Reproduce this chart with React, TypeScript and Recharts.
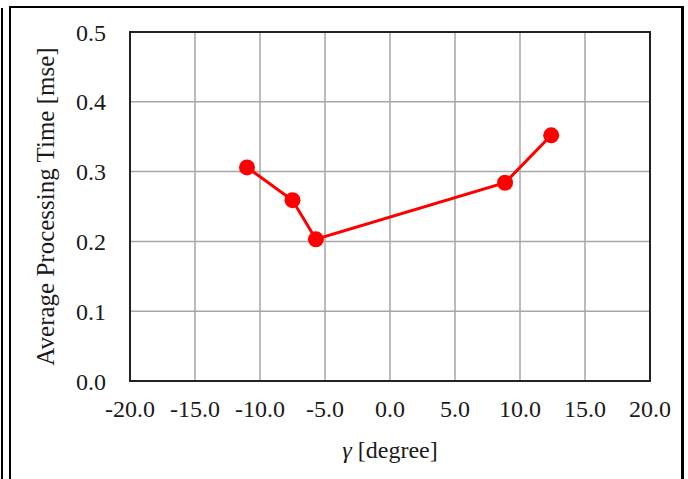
import React from 'react';
import {
  LineChart,
  Line,
  XAxis,
  YAxis,
  CartesianGrid,
  ReferenceArea,
} from 'recharts';

// Data
const gammaDeg = [-11.0, -7.5, -5.7, 8.85, 12.4];
const avgTime = [0.306, 0.259, 0.203, 0.284, 0.352];

const xTicks = [-20, -15, -10, -5, 0, 5, 10, 15, 20];
const yTicks = [0, 0.1, 0.2, 0.3, 0.4, 0.5];

const FONT = '"Liberation Serif", "Times New Roman", serif';
const FONT_SIZE = 24;
const TEXT_COLOR = '#1a1a1a';
const GRID_COLOR = '#a6a6a6';
const LINE_COLOR = '#ff0000';

const chartData = gammaDeg.map((g, i) => ({ gamma: g, time: avgTime[i] }));

function XLabel({ viewBox }: any) {
  const cx = viewBox.x + viewBox.width / 2;
  return (
    <text x={cx} y={458} textAnchor="middle" fontFamily={FONT} fontSize={FONT_SIZE} fill={TEXT_COLOR}>
      <tspan fontStyle="italic">γ</tspan>
      <tspan> [degree]</tspan>
    </text>
  );
}

function YLabel({ viewBox }: any) {
  const cy = viewBox.y + viewBox.height / 2;
  const cx = 45;
  return (
    <text
      x={cx}
      y={cy}
      transform={`rotate(-90, ${cx}, ${cy})`}
      textAnchor="middle"
      dominantBaseline="central"
      fontFamily={FONT}
      fontSize={25}
      fill={TEXT_COLOR}
    >
      Average Processing  Time [mse]
    </text>
  );
}

export default function App() {
  return (
    <div
      style={{
        position: 'absolute',
        left: 0,
        top: 0,
        width: 688,
        height: 479,
        background: '#fff',
        overflow: 'hidden',
      }}
    >
      {/* outer frame from the source document */}
      <div style={{ position: 'absolute', left: 1, top: 8, width: 2, height: 479, background: '#000' }} />
      <div style={{ position: 'absolute', left: 9, top: 6, width: 2, height: 479, background: '#000' }} />
      <div style={{ position: 'absolute', left: 9, top: 6, width: 675, height: 2, background: '#000' }} />
      <div style={{ position: 'absolute', left: 681, top: 6, width: 3, height: 479, background: '#000' }} />

      <div style={{ position: 'absolute', left: 0, top: 0 }}>
        <LineChart
          width={688}
          height={479}
          data={chartData}
          margin={{ top: 32, right: 38, left: 0, bottom: 0 }}
        >
          <CartesianGrid stroke={GRID_COLOR} strokeWidth={1.5} />
          <XAxis
            type="number"
            dataKey="gamma"
            domain={[-20, 20]}
            ticks={xTicks}
            height={98}
            tickSize={0}
            tickMargin={19}
            tickFormatter={(v: number) => v.toFixed(1)}
            tick={{ fontFamily: FONT, fontSize: FONT_SIZE, fill: TEXT_COLOR }}
            axisLine={{ stroke: '#222', strokeWidth: 2 }}
            tickLine={false}
            label={<XLabel />}
          />
          <YAxis
            type="number"
            domain={[0, 0.5]}
            ticks={yTicks}
            width={130}
            tickSize={0}
            tickMargin={24}
            tickFormatter={(v: number) => v.toFixed(1)}
            tick={{ fontFamily: FONT, fontSize: FONT_SIZE, fill: TEXT_COLOR }}
            axisLine={{ stroke: '#222', strokeWidth: 2 }}
            tickLine={false}
            label={<YLabel />}
          />
          <ReferenceArea
            x1={-20}
            x2={20}
            y1={0}
            y2={0.5}
            fill="none"
            stroke="#222"
            strokeWidth={2}
            fillOpacity={0}
          />
          <Line
            type="linear"
            dataKey="time"
            stroke={LINE_COLOR}
            strokeWidth={3}
            dot={{ r: 8, fill: LINE_COLOR, stroke: LINE_COLOR, strokeWidth: 0 }}
            activeDot={false}
            isAnimationActive={false}
          />
        </LineChart>
      </div>
    </div>
  );
}
